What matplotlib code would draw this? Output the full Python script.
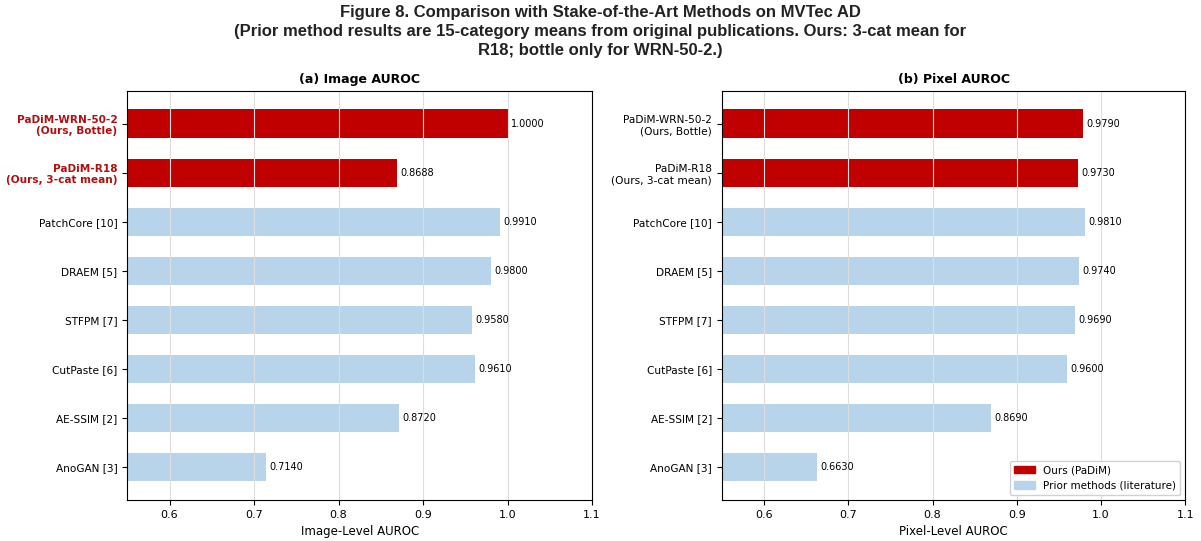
import matplotlib
matplotlib.use('Agg')
import matplotlib.pyplot as plt
from matplotlib.patches import Patch

methods = ['PaDiM-WRN-50-2\n(Ours, Bottle)', 'PaDiM-R18\n(Ours, 3-cat mean)',
           'PatchCore [10]', 'DRAEM [5]', 'STFPM [7]', 'CutPaste [6]',
           'AE-SSIM [2]', 'AnoGAN [3]']
is_ours = [True, True, False, False, False, False, False, False]
image_auroc = [1.0000, 0.8688, 0.9910, 0.9800, 0.9580, 0.9610, 0.8720, 0.7140]
pixel_auroc = [0.9790, 0.9730, 0.9810, 0.9740, 0.9690, 0.9600, 0.8690, 0.6630]

RED = '#c00000'
BLUE = '#b8d4ea'

fig = plt.figure(figsize=(12.01, 5.41), dpi=100)
fig.suptitle('Figure 8. Comparison with Stake-of-the-Art Methods on MVTec AD\n'
             '(Prior method results are 15-category means from original publications. Ours: 3-cat mean for\n'
             'R18; bottle only for WRN-50-2.)',
             fontsize=12, fontweight='bold', family=['Liberation Sans', 'DejaVu Sans'],
             y=0.99, linespacing=1.3, color='#222222')

ax1 = fig.add_axes([0.106, 0.076, 0.387, 0.756])
ax2 = fig.add_axes([0.601, 0.076, 0.386, 0.756])

colors = [RED if o else BLUE for o in is_ours]
ypos = list(range(len(methods)))

panels = [(ax1, image_auroc, '(a) Image AUROC', 'Image-Level AUROC', True),
          (ax2, pixel_auroc, '(b) Pixel AUROC', 'Pixel-Level AUROC', False)]

for ax, vals, title, xlabel, bold_ours in panels:
    ax.barh(ypos, vals, height=0.58, color=colors)
    for y, v in zip(ypos, vals):
        ax.text(v + 0.004, y, f'{v:.4f}', va='center', ha='left', fontsize=7)
    ax.set_yticks(ypos)
    ax.set_yticklabels(methods, fontsize=7.6)
    ax.invert_yaxis()
    ax.set_xlim(0.55, 1.1)
    ax.set_xticks([0.6, 0.7, 0.8, 0.9, 1.0, 1.1])
    ax.tick_params(axis='x', labelsize=8)
    ax.grid(True, axis='x', color='#dddddd', linewidth=0.8)
    ax.set_title(title, fontsize=9, fontweight='bold')
    ax.set_xlabel(xlabel, fontsize=8.5)
    if bold_ours:
        for lbl, o in zip(ax.get_yticklabels(), is_ours):
            if o:
                lbl.set_color('#b01010')
                lbl.set_fontweight('bold')

handles = [Patch(color=RED, label='Ours (PaDiM)'),
           Patch(color=BLUE, label='Prior methods (literature)')]
ax2.legend(handles=handles, loc='lower right', fontsize=7.5, framealpha=0.9)

fig.savefig('out.png', dpi=100)
